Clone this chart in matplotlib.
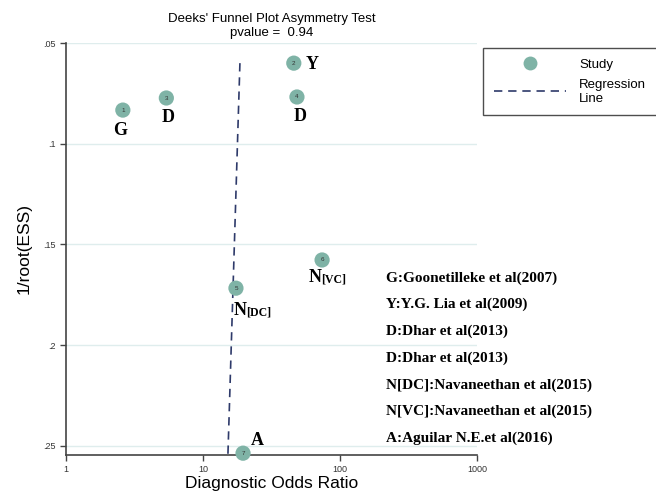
import matplotlib
matplotlib.use('Agg')
import matplotlib.pyplot as plt
from matplotlib.lines import Line2D

# study data
study_id = [1, 2, 3, 4, 5, 6, 7]
dor = [2.6, 46.0, 5.4, 48.5, 17.4, 74.0, 19.6]
inv_root_ess = [0.0833, 0.0600, 0.0773, 0.0768, 0.1717, 0.1577, 0.2536]
letters = ['G', 'Y', 'D', 'D', 'N', 'N', 'A']
subs = ['', '', '', '', '[DC]', '[VC]', '']
# label offsets (points) relative to each study marker
offsets = [(-2, -15), (13, -1), (1, -14), (2, -14), (3, -16), (-5, -12.5), (10, 9)]

# regression line ends
reg_y = [0.06, 0.2545]
reg_x = [18.6, 15.2]

references = ['G:Goonetilleke et al(2007)', 'Y:Y.G. Lia et al(2009)', 'D:Dhar et al(2013)',
              'D:Dhar et al(2013)', 'N[DC]:Navaneethan et al(2015)',
              'N[VC]:Navaneethan et al(2015)', 'A:Aguilar N.E.et al(2016)']

yticks = [0.05, 0.1, 0.15, 0.2, 0.25]
ytick_labels = ['.05', '.1', '.15', '.2', '.25']
xticks = [1, 10, 100, 1000]

plt.rcParams['font.family'] = ['Liberation Sans', 'DejaVu Sans']
teal = '#7fb3a6'

fig = plt.figure(figsize=(6.56, 4.97), dpi=100)
ax = fig.add_axes([66/656, 1 - 455/497, (477-66)/656, (455-43)/497])
ax.set_xscale('log')
ax.set_xlim(1, 1000)
ax.set_ylim(0.2545, 0.05)

for y in yticks:
    ax.axhline(y, color='#dfeded', lw=1, zorder=0)

ax.plot(reg_x, reg_y, ls=(0, (5, 3.5)), color='#2e3a6a', lw=1.2, zorder=2)
ax.scatter(dor, inv_root_ess, s=120, color=teal, zorder=3, clip_on=False, edgecolors='none')

for i in range(len(dor)):
    ax.text(dor[i], inv_root_ess[i], str(study_id[i]), ha='center', va='center',
            fontsize=4.5, color='#333333', zorder=4, clip_on=False)
    dx, dy = offsets[i]
    ax.annotate(letters[i], (dor[i], inv_root_ess[i]), xytext=(dx, dy),
                textcoords='offset points', ha='center', va='center',
                family='Liberation Serif', fontweight='bold', fontsize=13)
    if subs[i]:
        ax.annotate(subs[i], (dor[i], inv_root_ess[i]), xytext=(dx + 4.5, dy - 1.5),
                    textcoords='offset points', ha='left', va='center',
                    family='Liberation Serif', fontweight='bold', fontsize=8.5)

for i, ref in enumerate(references):
    fig.text(386/656, 1 - (278 + i*26.7)/497, ref, ha='left', va='center',
             family='Liberation Serif', fontweight='bold', fontsize=11)

ax.set_yticks(yticks)
ax.set_yticklabels(ytick_labels)
ax.set_xticks(xticks)
ax.set_xticklabels(['1', '10', '100', '1000'])
ax.minorticks_off()
ax.tick_params(labelsize=6.5, length=4, width=1, color='#444444', labelcolor='#333333')
for s in ['top', 'right']:
    ax.spines[s].set_visible(False)
for s in ['left', 'bottom']:
    ax.spines[s].set_color('#444444')
    ax.spines[s].set_linewidth(1.2)

ax.set_xlabel('Diagnostic Odds Ratio', fontsize=12.5, labelpad=1)
ax.set_ylabel('1/root(ESS)', fontsize=12.5, labelpad=8)
ax.set_title("Deeks' Funnel Plot Asymmetry Test\npvalue =  0.94", fontsize=9.5,
             pad=5, linespacing=1.25)

handles = [Line2D([], [], ls='none', marker='o', ms=10, color=teal, mec='none'),
           Line2D([], [], ls=(0, (5, 3.5)), color='#2e3a6a', lw=1.2)]
leg = fig.legend(handles, ['Study', 'Regression\nLine'], loc='upper left',
                 bbox_to_anchor=(483/656, 1 - 48/497), borderaxespad=0,
                 handlelength=5.5, handletextpad=1.0, labelspacing=0.6,
                 borderpad=0.8, fontsize=9.5, fancybox=False, frameon=True)
leg.get_frame().set_edgecolor('#222222')
leg.get_frame().set_linewidth(1.0)

fig.savefig('out.png', dpi=100)
